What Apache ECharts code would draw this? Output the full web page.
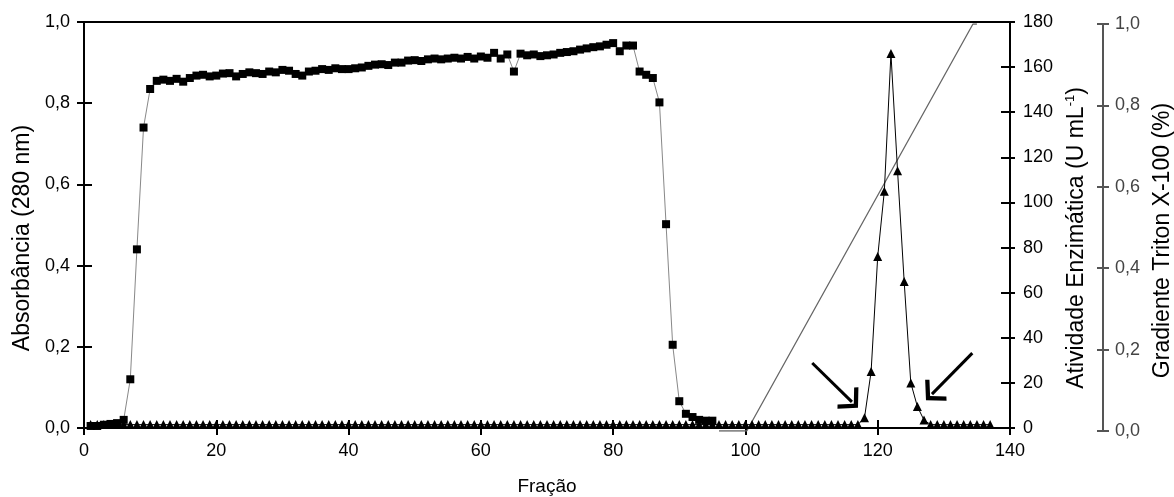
<!DOCTYPE html>
<html>
<head>
<meta charset="utf-8">
<script src="https://cdn.jsdelivr.net/npm/echarts@6/dist/echarts.min.js"></script>
<style>
html,body{margin:0;padding:0;background:#fff;}
#chart{width:1174px;height:497px;}
</style>
</head>
<body>
<div id="chart"></div>
<script>
// ---- data ----
// Absorbância (280 nm), fractions 1..95
var absFirstFraction = 1;
var absorbance = [
  0.005,0.005,0.008,0.010,0.012,0.020,0.120,0.440,0.740,0.835,
  0.855,0.858,0.855,0.860,0.853,0.862,0.868,0.870,0.866,0.868,
  0.873,0.874,0.866,0.872,0.876,0.874,0.872,0.878,0.876,0.882,
  0.880,0.872,0.868,0.878,0.880,0.884,0.882,0.886,0.884,0.884,
  0.886,0.888,0.892,0.895,0.896,0.894,0.900,0.900,0.905,0.906,
  0.904,0.908,0.910,0.908,0.910,0.912,0.910,0.914,0.910,0.915,
  0.912,0.924,0.910,0.920,0.878,0.922,0.918,0.920,0.916,0.918,
  0.920,0.924,0.926,0.928,0.932,0.935,0.938,0.940,0.944,0.948,
  0.928,0.942,0.942,0.878,0.870,0.862,0.802,0.502,0.205,0.066,
  0.035,0.027,0.020,0.018,0.018
];
// Atividade Enzimática (U mL-1), fractions 1..137
var actFirstFraction = 1;
var activity = [
  1.5,1.5,1.5,1.5,1.5,1.5,1.5,1.5,1.5,1.5,
  1.5,1.5,1.5,1.5,1.5,1.5,1.5,1.5,1.5,1.5,
  1.5,1.5,1.5,1.5,1.5,1.5,1.5,1.5,1.5,1.5,
  1.5,1.5,1.5,1.5,1.5,1.5,1.5,1.5,1.5,1.5,
  1.5,1.5,1.5,1.5,1.5,1.5,1.5,1.5,1.5,1.5,
  1.5,1.5,1.5,1.5,1.5,1.5,1.5,1.5,1.5,1.5,
  1.5,1.5,1.5,1.5,1.5,1.5,1.5,1.5,1.5,1.5,
  1.5,1.5,1.5,1.5,1.5,1.5,1.5,1.5,1.5,1.5,
  1.5,1.5,1.5,1.5,1.5,1.5,1.5,1.5,1.5,1.5,
  1.5,1.5,1.5,1.5,1.5,1.5,1.5,1.5,1.5,1.5,
  1.5,1.5,1.5,1.5,1.5,1.5,1.5,1.5,1.5,1.5,
  1.5,1.5,1.5,1.5,1.5,1.5,1.5,4.5,25,76,
  105,166,114,65,20,9.5,3.5,1.5,1.5,1.5,
  1.5,1.5,1.5,1.5,1.5,1.5,1.5
];
// Gradiente Triton X-100 (%)
var gradientFractions = [96, 100.2, 134.4, 135];
var gradientValues = [0, 0, 1, 1];
// arrows (fraction, activity)
var arrowStarts = [[110.1, 28.8], [134.3, 33.2]];
var arrowEnds = [[116.1, 11.6], [128.2, 15.0]];
// axis tick settings
var xTicks = {min: 0, max: 140, interval: 20};
var absTicks = {min: 0, max: 1, interval: 0.2};
var actTicks = {min: 0, max: 180, interval: 20};
var gradTicks = {min: 0, max: 1, interval: 0.2};

// ---- build ----
function pairs(first, vals) { return vals.map(function (v, i) { return [first + i, v]; }); }
function comma(v) { return v.toFixed(1).replace('.', ','); }
var FONT = 'Liberation Sans, Arial, sans-serif';
var GRAY = '#555';
var LABEL = 18;
var NAME = 23;

var chart = echarts.init(document.getElementById('chart'), null, {renderer: 'canvas'});
var option = {
  animation: false,
  backgroundColor: '#fff',
  textStyle: {fontFamily: FONT},
  grid: [
    {left: 84, right: 164, top: 22, bottom: 69, containLabel: false, outerBoundsMode: 'none',
      show: true, borderColor: '#000', borderWidth: 2, backgroundColor: 'transparent'},
    {left: 84, right: 164, top: 24, bottom: 66, containLabel: false, outerBoundsMode: 'none', show: false}
  ],
  xAxis: [
    {type: 'value', gridIndex: 0, min: xTicks.min, max: xTicks.max, interval: xTicks.interval,
      position: 'bottom',
      name: 'Fração', nameLocation: 'middle', nameGap: 49,
      nameTextStyle: {fontSize: 19, color: '#000', fontFamily: FONT},
      axisLine: {onZero: false, lineStyle: {color: '#000', width: 2}},
      axisTick: {show: true, inside: false, length: 7, lineStyle: {color: '#000', width: 2}},
      axisLabel: {fontSize: LABEL, color: '#000', margin: 14, fontFamily: FONT},
      splitLine: {show: false}},
    {type: 'value', gridIndex: 1, min: xTicks.min, max: xTicks.max, show: false},
    {type: 'value', gridIndex: 0, min: xTicks.min, max: xTicks.max, interval: xTicks.interval,
      position: 'bottom', axisLine: {show: false, onZero: false}, axisLabel: {show: false},
      axisTick: {show: true, inside: true, length: 8, lineStyle: {color: '#000', width: 2}},
      splitLine: {show: false}}
  ],
  yAxis: [
    {type: 'value', gridIndex: 0, position: 'left', min: absTicks.min, max: absTicks.max, interval: absTicks.interval,
      name: 'Absorbância (280 nm)', nameLocation: 'middle', nameGap: 50, nameRotate: 90,
      nameTextStyle: {fontSize: NAME, color: '#000', fontFamily: FONT, padding: [0, 26, 0, 0]},
      axisLine: {show: true, onZero: false, lineStyle: {color: '#000', width: 2}},
      axisTick: {show: true, inside: false, length: 7, lineStyle: {color: '#000', width: 2}},
      axisLabel: {fontSize: LABEL, color: '#000', margin: 14, fontFamily: FONT, formatter: comma},
      splitLine: {show: false}},
    {type: 'value', gridIndex: 0, position: 'right', offset: 0, min: actTicks.min, max: actTicks.max, interval: actTicks.interval,
      name: 'Atividade Enzimática (U mL{sup|-1})', nameLocation: 'middle', nameGap: 54, nameRotate: 90,
      nameTextStyle: {fontSize: NAME, color: '#000', fontFamily: FONT, padding: [0, 26, 0, 0],
        rich: {sup: {fontSize: 13, fontFamily: FONT, color: '#000', verticalAlign: 'top', padding: [0, 0, 12, 0]}}},
      axisLine: {show: true, onZero: false, lineStyle: {color: '#000', width: 2}},
      axisTick: {show: true, inside: false, length: 5, lineStyle: {color: '#000', width: 2}},
      axisLabel: {fontSize: LABEL, color: '#000', margin: 13, fontFamily: FONT},
      splitLine: {show: false}},
    {type: 'value', gridIndex: 0, position: 'left', min: absTicks.min, max: absTicks.max, interval: absTicks.interval,
      axisLine: {show: false, onZero: false}, axisLabel: {show: false}, splitLine: {show: false},
      axisTick: {show: true, inside: true, length: 8, lineStyle: {color: '#000', width: 2}}},
    {type: 'value', gridIndex: 1, position: 'right', offset: 93, min: gradTicks.min, max: gradTicks.max, interval: gradTicks.interval,
      name: 'Gradiente Triton X-100 (%)', nameLocation: 'middle', nameGap: 48, nameRotate: 90,
      nameTextStyle: {fontSize: NAME, color: '#000', fontFamily: FONT, padding: [0, 26, 0, 0]},
      axisLine: {show: true, onZero: false, lineStyle: {color: GRAY, width: 2}},
      axisTick: {show: true, inside: false, length: 6, lineStyle: {color: GRAY, width: 2}},
      axisLabel: {fontSize: LABEL, color: '#444', margin: 12, fontFamily: FONT, formatter: comma},
      splitLine: {show: false}},
    {type: 'value', gridIndex: 0, position: 'right', offset: 0, min: actTicks.min, max: actTicks.max, interval: actTicks.interval,
      axisLine: {show: false, onZero: false}, axisLabel: {show: false}, splitLine: {show: false},
      axisTick: {show: true, inside: true, length: 9, lineStyle: {color: '#000', width: 2}}},
    {type: 'value', gridIndex: 1, position: 'right', offset: 93, min: gradTicks.min, max: gradTicks.max, interval: gradTicks.interval,
      axisLine: {show: false, onZero: false}, axisLabel: {show: false}, splitLine: {show: false},
      axisTick: {show: true, inside: true, length: 6, lineStyle: {color: GRAY, width: 2}}}
  ],
  series: [
    {name: 'Gradiente', type: 'line', xAxisIndex: 1, yAxisIndex: 3,
      data: gradientFractions.map(function (f, i) { return [f, gradientValues[i]]; }),
      showSymbol: false, symbol: 'none', smooth: false,
      lineStyle: {color: '#666', width: 1.3}, z: 1},
    {name: 'Absorbância', type: 'line', xAxisIndex: 0, yAxisIndex: 0,
      data: pairs(absFirstFraction, absorbance),
      symbol: 'rect', symbolSize: 8, showAllSymbol: true,
      itemStyle: {color: '#000'}, lineStyle: {color: '#888', width: 1}, z: 3},
    {name: 'Atividade', type: 'line', xAxisIndex: 0, yAxisIndex: 1,
      data: pairs(actFirstFraction, activity),
      symbol: 'triangle', symbolSize: 9, showAllSymbol: true,
      itemStyle: {color: '#000'}, lineStyle: {color: '#000', width: 1}, z: 4,
      markLine: {
        silent: true, animation: false,
        symbol: ['none', 'path://M0,0 L12,12 L9.5,14.5 L0,5 L-9.5,14.5 L-12,12 Z'],
        symbolSize: [30, 17],
        lineStyle: {color: '#000', width: 3, type: 'solid'},
        label: {show: false},
        emphasis: {disabled: true},
        data: arrowStarts.map(function (s, i) { return [{coord: s}, {coord: arrowEnds[i]}]; })
      }}
  ]
};
chart.setOption(option);
</script>
</body>
</html>
